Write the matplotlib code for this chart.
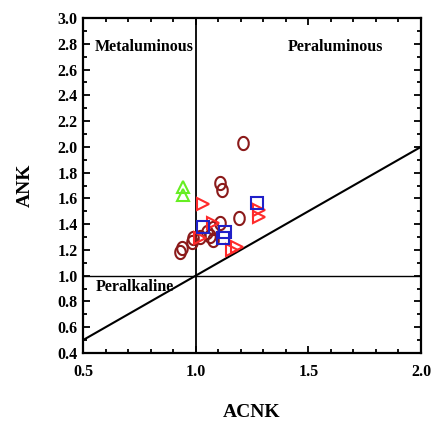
import numpy as np
import matplotlib
matplotlib.use('Agg')
import matplotlib.pyplot as plt
from matplotlib.ticker import MultipleLocator, FormatStrFormatter

# data
circle_x = [1.209, 1.108, 1.116, 1.192, 1.108, 1.077, 1.049, 1.019, 0.982, 0.938, 0.930, 1.077, 1.064, 0.990]
circle_y = [2.028, 1.718, 1.666, 1.450, 1.409, 1.370, 1.342, 1.303, 1.264, 1.213, 1.187, 1.277, 1.308, 1.290]

square_x = [1.274, 1.034, 1.130, 1.123]
square_y = [1.562, 1.381, 1.342, 1.293]

rtri_x = [1.034, 1.281, 1.281, 1.160, 1.182, 1.077, 1.019]
rtri_y = [1.555, 1.510, 1.458, 1.200, 1.225, 1.410, 1.290]

gtri_x = [0.944, 0.942]
gtri_y = [1.690, 1.630]

x_ticks = [0.5, 1.0, 1.5, 2.0]
y_ticks = np.arange(0.4, 3.01, 0.2)

FONT = 'Liberation Serif'

# slightly tall oval like the original symbols
t = np.linspace(0, 2 * np.pi, 41)
oval = np.column_stack([0.8 * np.cos(t), np.sin(t)])

fig = plt.figure(figsize=(4.32, 4.25), dpi=100)
ax = fig.add_axes([83/432, 72/425, 338/432, 335/425])

# reference lines
ax.plot([0.5, 2.0], [0.5, 2.0], color='black', lw=1.5)
ax.axvline(1.0, color='black', lw=1.3)
ax.axhline(1.0, color='black', lw=1.0)

# samples
ax.plot(circle_x, circle_y, linestyle='none', marker=oval, ms=9.5, mfc='none', mec='#8b1a1a', mew=1.5)
ax.plot(rtri_x, rtri_y, '>', ms=8, mfc='none', mec='#ff2a2a', mew=1.5)
ax.plot(square_x, square_y, 's', ms=8, mfc='none', mec='#2020c8', mew=1.5)
ax.plot(gtri_x, gtri_y, '^', ms=9, mfc='none', mec='#66ee22', mew=1.5)

# field names
ax.text(0.553, 2.776, 'Metaluminous', fontsize=11.5, fontweight='bold', family=FONT, va='center')
ax.text(1.41, 2.776, 'Peraluminous', fontsize=11.5, fontweight='bold', family=FONT, va='center')
ax.text(0.558, 0.912, 'Peralkaline', fontsize=11.5, fontweight='bold', family=FONT, va='center')

ax.set_xlim(0.5, 2.0)
ax.set_ylim(0.4, 3.0)
ax.set_xticks(x_ticks)
ax.set_yticks(y_ticks)
ax.xaxis.set_minor_locator(MultipleLocator(0.1))
ax.yaxis.set_minor_locator(MultipleLocator(0.1))
ax.xaxis.set_major_formatter(FormatStrFormatter('%.1f'))
ax.yaxis.set_major_formatter(FormatStrFormatter('%.1f'))
ax.tick_params(which='both', direction='in', top=True, right=True, width=1.3)
ax.tick_params(which='major', length=5)
ax.tick_params(which='minor', length=3)
ax.tick_params(axis='x', pad=8)
ax.tick_params(axis='y', pad=4)
for lab in ax.get_xticklabels() + ax.get_yticklabels():
    lab.set_fontfamily(FONT)
    lab.set_fontweight('bold')
    lab.set_fontsize(11.5)
for s in ax.spines.values():
    s.set_linewidth(1.6)

ax.set_xlabel('ACNK', fontsize=14, fontweight='bold', family=FONT, labelpad=17)
ax.set_ylabel('ANK', fontsize=14, fontweight='bold', family=FONT, labelpad=17)

fig.savefig('out.png', dpi=100)
